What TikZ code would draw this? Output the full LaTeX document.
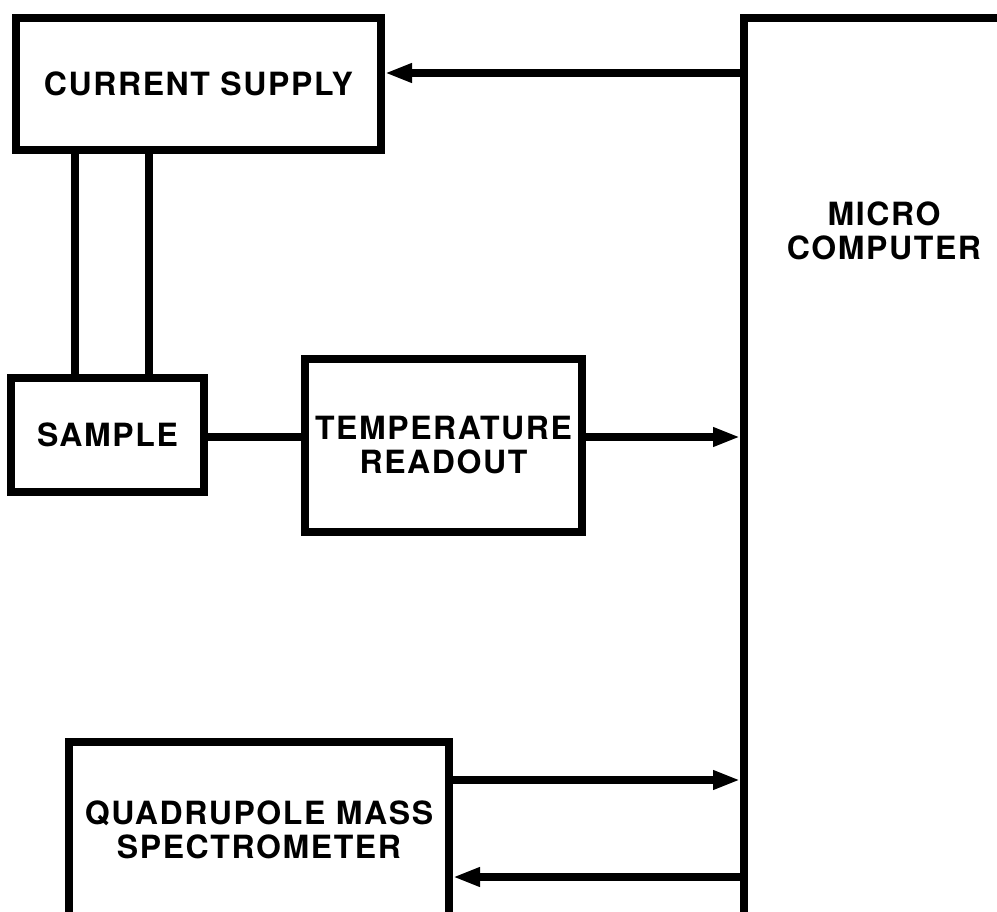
\documentclass[tikz,border=0pt]{standalone}
\usepackage{fontspec}
\setmainfont{TeX Gyre Heros}[LetterSpace=5]
\usetikzlibrary{arrows.meta}
\begin{document}
\begin{tikzpicture}[x=1pt,y=-1pt,
  blk/.style={draw=black,line width=8pt,rectangle,inner sep=0pt,align=center,
    font=\fontsize{32}{34}\selectfont\bfseries},
  lbl/.style={inner sep=0pt,align=center,font=\fontsize{32}{34}\selectfont\bfseries},
  wire/.style={line width=8pt},
  arr/.style={line width=8pt,-{Triangle[length=27pt,width=18pt]}}]
\useasboundingbox (0,0) rectangle (997,912);
\fill[white] (0,0) rectangle (997,912);
% blocks
\node[blk,minimum width=365pt,minimum height=132pt] (cs) at (198.5,84) {CURRENT SUPPLY};
\node[blk,minimum width=193pt,minimum height=114pt] (sample) at (107.5,435) {SAMPLE};
\node[blk,minimum width=277pt,minimum height=173pt] (temp) at (443.5,445.5) {TEMPERATURE\\READOUT};
\node[blk,minimum width=380pt,minimum height=176pt] (qms) at (259,830) {QUADRUPOLE MASS\\SPECTROMETER};
\node[blk,minimum width=257pt,minimum height=900pt] (mc) at (872.5,468) {};
\node[lbl] (mclbl) at (884,231) {MICRO\\COMPUTER};
% level coordinates
\coordinate (w1) at (75,0);
\coordinate (w2) at (149,0);
\coordinate (yA) at (0,73);
\coordinate (yT) at (0,437);
\coordinate (yQ1) at (0,780);
\coordinate (yQ2) at (0,877);
% connectors
\draw[wire] (cs.south -| w1) -- (sample.north -| w1);
\draw[wire] (cs.south -| w2) -- (sample.north -| w2);
\draw[wire] (sample.east |- yT) -- (temp.west |- yT);
\draw[arr] (temp.east |- yT) -- (mc.west |- yT);
\draw[arr] (mc.west |- yA) -- (cs.east |- yA);
\draw[arr] (qms.east |- yQ1) -- (mc.west |- yQ1);
\draw[arr] (mc.west |- yQ2) -- (qms.east |- yQ2);
\end{tikzpicture}
\end{document}
